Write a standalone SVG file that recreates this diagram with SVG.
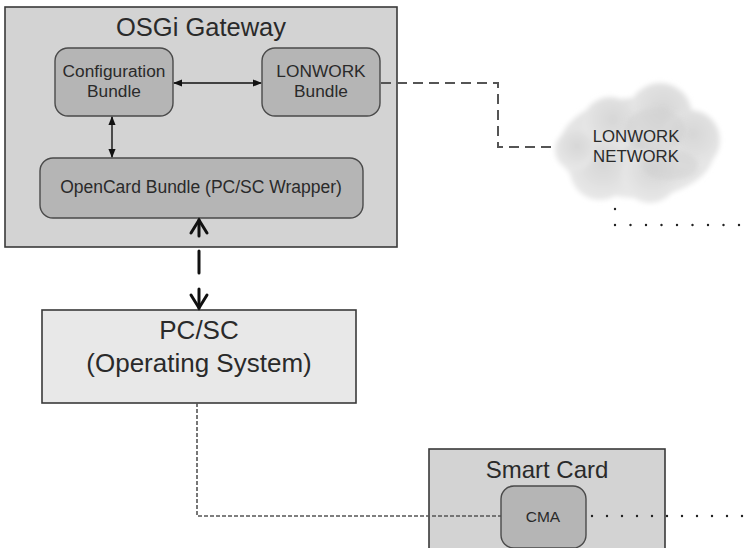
<svg xmlns="http://www.w3.org/2000/svg" width="752" height="548" viewBox="0 0 752 548">
<defs>
<style>
.box{fill:#d3d3d3;stroke:#3a3a3a;stroke-width:1.6}
.bundle{fill:#b5b5b5;stroke:#4a4a4a;stroke-width:1.4}
.t{font-family:"Liberation Sans",Arial,sans-serif;fill:#2a2a2a;text-anchor:middle}
.arrow{stroke:#111;stroke-width:1.4;fill:none}
.open{stroke:#111;stroke-width:3;fill:none;stroke-linecap:round}
</style>
<marker id="ah" viewBox="0 0 10 10" refX="9" refY="5" markerWidth="9" markerHeight="9" markerUnits="userSpaceOnUse" orient="auto-start-reverse">
<path d="M0,1 L10,5 L0,9 z" fill="#111"/>
</marker>
<filter id="soft" x="-20%" y="-20%" width="140%" height="140%"><feGaussianBlur stdDeviation="2.5"/></filter>
<radialGradient id="cg" cx="55%" cy="40%" r="60%"><stop offset="0" stop-color="#d6d6d6"/><stop offset="1" stop-color="#e8e8e8"/></radialGradient>
</defs>
<rect width="752" height="548" fill="#fff"/>

<g id="osgi-gateway">
<rect class="box" x="5" y="7" width="392" height="240"/>
<text class="t" x="201" y="36" font-size="25.5">OSGi Gateway</text>
</g>

<g id="configuration-bundle">
<rect class="bundle" x="55" y="48" width="118" height="68" rx="13"/>
<text class="t" x="114" y="77" font-size="17.3">Configuration</text>
<text class="t" x="114" y="97" font-size="17.3">Bundle</text>
</g>

<g id="lonwork-bundle">
<rect class="bundle" x="262" y="48" width="118" height="68" rx="13"/>
<text class="t" x="321" y="77" font-size="17.3">LONWORK</text>
<text class="t" x="321" y="97" font-size="17.3">Bundle</text>
</g>

<g id="opencard-bundle">
<rect class="bundle" x="40" y="158" width="323" height="60" rx="13"/>
<text class="t" x="201" y="193" font-size="17.5">OpenCard Bundle (PC/SC Wrapper)</text>
</g>

<g id="lonwork-network">
<g filter="url(#soft)" fill="url(#cg)">
<ellipse cx="637" cy="148" rx="78" ry="50"/>
<circle cx="660" cy="115" r="32"/>
<circle cx="610" cy="125" r="28"/>
<circle cx="690" cy="140" r="30"/>
<circle cx="600" cy="170" r="30"/>
<circle cx="650" cy="175" r="28"/>
<circle cx="575" cy="150" r="20"/>
</g>
<g filter="url(#soft)" fill="#cfcfcf" opacity="0.5">
<ellipse cx="655" cy="130" rx="30" ry="22"/>
<ellipse cx="670" cy="165" rx="28" ry="15"/>
</g>
<text class="t" x="636" y="142" font-size="16.8">LONWORK</text>
<text class="t" x="636" y="162" font-size="16.8">NETWORK</text>
</g>

<g id="pcsc">
<rect x="42" y="310" width="314" height="93" fill="#e8e8e8" stroke="#3a3a3a" stroke-width="1.6"/>
<text class="t" x="199" y="339" font-size="26">PC/SC</text>
<text class="t" x="199" y="372" font-size="26">(Operating System)</text>
</g>

<g id="smart-card">
<rect class="box" x="429" y="449" width="236" height="110"/>
<text class="t" x="547" y="478" font-size="24">Smart Card</text>
</g>

<g id="connectors">
<line class="arrow" x1="174" y1="83" x2="261" y2="83" marker-start="url(#ah)" marker-end="url(#ah)"/>
<line class="arrow" x1="112" y1="117" x2="112" y2="157" marker-start="url(#ah)" marker-end="url(#ah)"/>
<polyline points="381,83 498,83 498,147 557,147" fill="none" stroke="#555" stroke-width="2" stroke-dasharray="10,6"/>
<g stroke="#222" stroke-width="2.4" stroke-linecap="round" fill="none">
<line x1="615" y1="209" x2="615" y2="209"/>
<line x1="615" y1="225" x2="752" y2="225" stroke-dasharray="0,15.5"/>
</g>
<line class="open" x1="199" y1="220" x2="199" y2="236"/>
<polyline class="open" points="191,233 199,220 207,233"/>
<line class="open" x1="199" y1="251" x2="199" y2="273"/>
<line class="open" x1="199" y1="289" x2="199" y2="308"/>
<polyline class="open" points="191,295 199,308 207,295"/>
<polyline points="197,403 197,516 502,516" fill="none" stroke="#555" stroke-width="1.6" stroke-dasharray="4,2"/>
<line x1="592" y1="516" x2="752" y2="516" stroke="#222" stroke-width="2.4" stroke-linecap="round" stroke-dasharray="0,15"/>
</g>

<g id="cma">
<rect class="bundle" x="501" y="486" width="85" height="62" rx="13"/>
<text class="t" x="543" y="522" font-size="15.5">CMA</text>
</g>
</svg>
